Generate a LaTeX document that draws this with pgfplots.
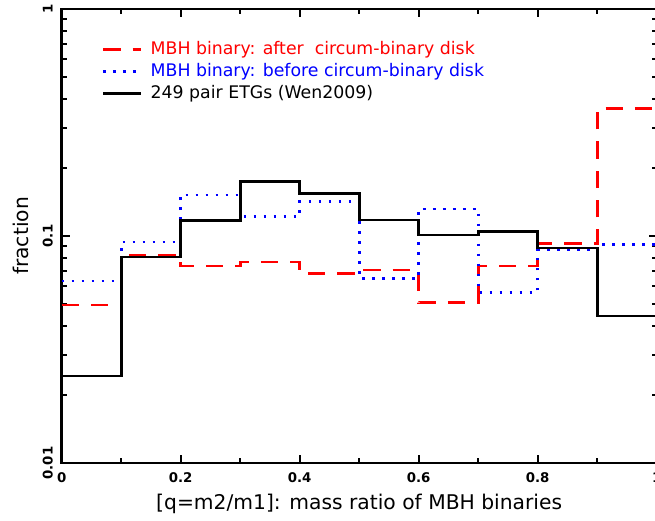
\documentclass[border=0pt]{standalone}
\usepackage{pgfplots}
\pgfplotsset{compat=1.18}
\usepackage{fontspec}
\setmainfont{DejaVu Sans}
\begin{document}
\begin{tikzpicture}
\begin{axis}[
  name=ax, at={(0pt,0pt)}, anchor=south west,
  scale only axis, width=446.25pt, height=340.5pt,
  xmin=0, xmax=1, ymode=log, ymin=0.01, ymax=1,
  xtick={0,0.2,0.4,0.6,0.8,1}, xticklabels={0,0.2,0.4,0.6,0.8,1},
  minor xtick={0.1,0.3,0.5,0.7,0.9},
  ytick={0.01,0.1,1}, yticklabels={0.01,0.1,1},
  minor ytick={0.02,0.03,0.04,0.05,0.06,0.07,0.08,0.09,0.2,0.3,0.4,0.5,0.6,0.7,0.8,0.9},
  tick align=inside, major tick length=6pt, minor tick length=3.75pt,
  tick style={line width=1.4pt, black},
  axis line style={line width=2pt},
  /pgf/number format/assume math mode=true,
  ticklabel style={font=\fontsize{10}{12}\selectfont\bfseries},
  xticklabel style={yshift=-3.5pt},
  yticklabel style={xshift=-10.5pt, rotate=90, anchor=center},
  xlabel={[q=m2/m1]: mass ratio of MBH binaries},
  ylabel={fraction},
  label style={font=\fontsize{15.2}{18}\selectfont},
  xlabel style={at={(axis description cs:0.5,0)}, yshift=-31pt, anchor=center},
  ylabel style={at={(axis description cs:0,0.5)}, yshift=30.75pt, anchor=center},
  legend style={at={(axis description cs:0.0606,0.935)}, anchor=north west,
    draw=none, fill=none, font=\fontsize{13}{15}\selectfont,
    row sep=4.5pt, column sep=6pt,
    nodes={inner sep=0pt, text height=9.5pt, text depth=2.5pt}},
  legend cell align=left,
  legend image code/.code={\draw[#1] (0pt,0pt) -- (28.5pt,0pt);},
]
\addplot[const plot, red, line width=2pt, dash pattern=on 13pt off 9pt] coordinates {
(0.0,0.0497) (0.1,0.0825) (0.2,0.0738) (0.3,0.0768) (0.4,0.0684)
(0.5,0.0708) (0.6,0.0508) (0.7,0.0738) (0.8,0.0929) (0.9,0.365) (1.0,0.365)};
\addlegendentry{\textcolor{red}{MBH binary: after\ \ circum-binary disk}}
\addplot[const plot, blue, line width=2pt, dash pattern=on 2pt off 5.5pt] coordinates {
(0.0,0.0633) (0.1,0.0941) (0.2,0.1516) (0.3,0.1216) (0.4,0.1416)
(0.5,0.0651) (0.6,0.1315) (0.7,0.0565) (0.8,0.0870) (0.9,0.0916) (1.0,0.0916)};
\addlegendentry{\textcolor{blue}{MBH binary: before circum-binary disk}}
\addplot[const plot, black, line width=2pt] coordinates {
(0.0,0.0242) (0.1,0.0808) (0.2,0.1168) (0.3,0.1734) (0.4,0.154)
(0.5,0.1176) (0.6,0.1010) (0.7,0.1046) (0.8,0.0885) (0.9,0.0444) (1.0,0.0444)};
\addlegendentry{249 pair ETGs (Wen2009)}
\end{axis}
\pgfresetboundingbox
\useasboundingbox (-46.25pt,-42.75pt) rectangle (445pt,347.25pt);
\end{tikzpicture}
\end{document}
